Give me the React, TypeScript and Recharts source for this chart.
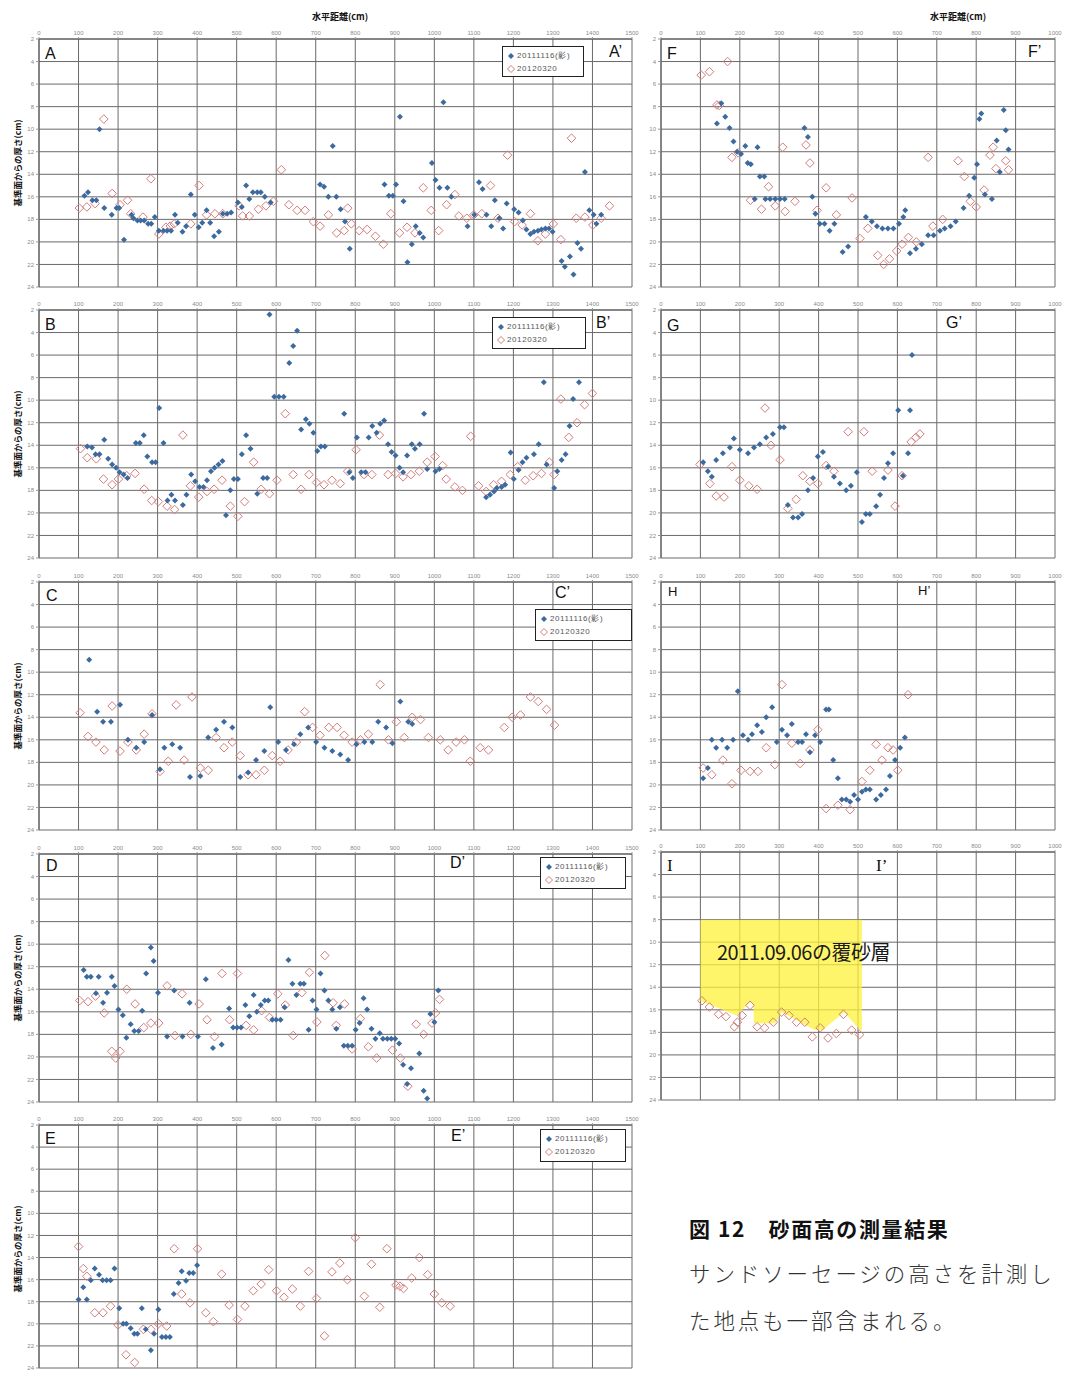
import React from 'react';
import { ScatterChart, ComposedChart, Scatter, Area, XAxis, YAxis, CartesianGrid } from 'recharts';

// ---------- tick labels ----------
const yTicks = [2, 4, 6, 8, 10, 12, 14, 16, 18, 20, 22, 24];
const xTicksLeft = [0, 100, 200, 300, 400, 500, 600, 700, 800, 900, 1000, 1100, 1200, 1300, 1400, 1500];
const xTicksRight = [0, 100, 200, 300, 400, 500, 600, 700, 800, 900, 1000];

const seriesNames = ['20111116(影)', '20120320'];

// ---------- A ----------
const aBlue: number[][] = [[153,10.0],[115,15.9],[124,15.6],[135,16.3],[145,16.3],[165,17.0],[184,17.6],[196,17.0],[203,17.0],[215,19.8],[234,17.6],[239,17.9],[249,18.1],[257,18.1],[266,18.1],[276,18.4],[284,18.4],[293,17.8],[303,19.0],[315,19.0],[324,19.0],[334,19.0],[344,17.6],[351,18.3],[363,19.1],[372,18.6],[384,15.8],[394,17.6],[404,18.7],[413,18.3],[424,17.2],[433,18.3],[443,19.5],[455,19.1],[465,17.5],[476,17.5],[486,17.4],[503,16.5],[513,16.9],[524,15.0],[532,16.2],[541,15.6],[552,15.6],[561,15.6],[571,16.0],[586,16.5],[711,14.9],[721,15.1],[732,16.0],[752,16.0],[743,11.5],[763,17.1],[774,18.2],[786,20.6],[874,14.9],[885,15.9],[895,15.9],[903,14.9],[913,8.9],[922,16.4],[932,21.8],[943,20.2],[953,18.6],[963,19.2],[972,19.6],[994,13.0],[1003,14.5],[1013,15.2],[1023,7.6],[1033,15.2],[1043,16.0],[1084,18.6],[1101,17.6],[1113,14.7],[1122,15.3],[1132,17.6],[1144,18.6],[1153,16.3],[1164,17.9],[1174,18.8],[1183,16.6],[1202,17.1],[1213,17.4],[1224,18.1],[1233,18.9],[1243,19.3],[1252,19.1],[1262,19.0],[1271,18.9],[1281,18.8],[1290,18.8],[1299,19.1],[1322,21.7],[1330,22.2],[1343,21.3],[1352,22.9],[1362,20.1],[1371,20.6],[1381,13.8],[1392,17.2],[1403,17.6],[1410,18.4],[1422,17.6]];
const aRed: number[][] = [[102,17.0],[121,16.9],[142,16.6],[164,9.1],[185,15.7],[205,16.7],[224,16.3],[232,17.5],[263,17.8],[283,14.4],[303,19.3],[321,18.7],[332,18.6],[342,18.4],[384,18.4],[405,15.0],[424,17.6],[445,17.5],[465,17.5],[506,16.8],[515,17.7],[532,17.7],[555,17.1],[574,16.8],[593,16.4],[613,13.6],[632,16.7],[653,17.2],[673,17.2],[694,18.2],[711,18.6],[732,17.6],[753,19.2],[772,19.0],[781,17.0],[790,18.4],[810,19.0],[830,18.9],[851,19.5],[871,20.2],[890,17.5],[912,19.2],[931,18.7],[951,19.2],[972,15.2],[992,17.2],[1011,19.0],[1031,16.7],[1052,15.8],[1062,17.7],[1082,17.9],[1100,17.6],[1120,17.5],[1142,15.0],[1161,17.9],[1185,12.3],[1203,18.2],[1222,18.5],[1243,17.5],[1262,19.9],[1281,19.3],[1301,18.4],[1320,19.8],[1347,10.8],[1359,17.9],[1381,17.8],[1401,18.5],[1422,17.9],[1443,16.8]];

// ---------- B ----------
const bBlue: number[][] = [[122,14.1],[134,14.2],[143,14.8],[153,14.8],[165,13.5],[175,15.2],[185,15.7],[195,16.0],[204,16.4],[214,16.6],[224,16.9],[245,13.8],[255,13.8],[265,13.1],[274,15.0],[286,15.5],[295,15.5],[304,10.7],[315,13.8],[325,18.9],[335,18.4],[344,18.9],[364,19.3],[373,18.4],[385,16.6],[395,17.2],[406,17.7],[416,17.7],[425,17.1],[435,16.3],[444,16.0],[454,15.7],[464,15.4],[473,20.2],[484,18.0],[493,17.0],[503,17.0],[513,14.8],[524,13.1],[535,14.3],[552,18.3],[567,16.9],[577,16.9],[583,2.4],[595,9.7],[607,9.7],[619,9.7],[633,6.7],[643,5.2],[653,3.85],[663,12.6],[675,11.7],[684,12.1],[694,12.9],[704,14.5],[713,14.1],[723,14.1],[772,11.2],[785,16.4],[794,16.9],[804,13.3],[815,16.4],[826,16.4],[834,13.3],[843,12.3],[854,12.9],[863,12.1],[873,11.8],[883,13.9],[892,14.6],[902,14.9],[912,16.0],[921,16.4],[931,14.9],[943,13.9],[951,14.3],[963,13.9],[974,11.2],[982,16.1],[1003,16.3],[1013,16.1],[1131,18.6],[1141,18.4],[1151,18.1],[1158,17.8],[1170,17.7],[1179,17.5],[1193,14.65],[1201,17.0],[1213,16.2],[1223,15.5],[1233,15.1],[1252,14.8],[1264,13.9],[1277,8.4],[1284,15.7],[1303,17.8],[1311,16.3],[1322,15.3],[1332,14.8],[1342,12.3],[1351,9.9],[1366,8.4]];
const bRed: number[][] = [[105,14.3],[122,15.1],[145,15.2],[163,17.0],[185,17.5],[201,17.0],[222,16.7],[243,16.5],[266,17.9],[285,18.9],[302,19.0],[324,19.4],[343,19.7],[364,13.1],[383,17.6],[404,18.6],[425,18.1],[443,17.9],[463,17.1],[484,19.4],[503,20.3],[520,19.0],[543,15.5],[562,17.9],[583,18.3],[602,17.1],[623,11.2],[643,16.6],[663,17.9],[683,16.6],[702,17.3],[721,17.5],[741,17.1],[762,17.4],[781,16.3],[802,14.4],[822,16.6],[842,16.6],[861,13.1],[883,16.6],[902,16.5],[921,16.8],[941,16.6],[962,16.3],[982,15.5],[1002,15.0],[1021,15.8],[1030,17.0],[1052,17.7],[1071,18.0],[1092,13.2],[1112,17.6],[1131,18.1],[1150,17.5],[1170,17.2],[1192,16.6],[1211,15.9],[1230,17.1],[1250,16.7],[1271,16.5],[1291,15.5],[1303,16.6],[1320,9.9],[1340,13.3],[1361,12.0],[1380,10.4],[1400,9.4]];

// ---------- C ----------
const cBlue: number[][] = [[127,8.9],[147,13.5],[162,14.4],[182,14.4],[205,12.9],[225,16.0],[246,16.7],[266,16.2],[286,13.8],[306,18.6],[317,16.7],[337,16.4],[357,16.7],[382,19.3],[408,19.2],[428,15.8],[448,15.1],[468,14.4],[489,14.9],[509,19.3],[529,18.9],[549,17.8],[570,17.0],[585,13.1],[605,16.2],[625,16.9],[645,16.4],[661,15.5],[681,14.9],[701,16.2],[722,16.7],[742,17.0],[762,17.3],[782,17.8],[803,16.4],[823,16.2],[843,16.2],[858,14.4],[878,14.9],[894,16.3],[914,12.6],[934,14.4],[944,14.6]];
const cRed: number[][] = [[104,13.6],[124,15.7],[144,16.2],[165,16.9],[185,13.0],[205,17.0],[225,16.2],[246,16.9],[266,15.5],[286,13.7],[306,18.8],[327,17.9],[347,12.9],[367,17.8],[387,12.2],[408,18.5],[428,18.7],[448,15.8],[468,16.7],[489,16.2],[509,17.4],[529,19.1],[549,19.1],[570,18.7],[590,17.4],[610,17.9],[630,16.9],[651,16.2],[672,13.5],[692,14.9],[711,15.6],[733,14.9],[754,14.9],[772,15.6],[792,16.2],[813,16.0],[833,15.5],[863,11.1],[884,16.0],[904,14.4],[924,15.8],[944,14.0],[965,14.2],[985,15.8],[1015,16.0],[1035,16.9],[1055,16.2],[1076,16.0],[1091,17.9],[1116,16.7],[1137,16.9],[1177,14.9],[1197,14.0],[1218,13.8],[1243,12.2],[1263,12.6],[1284,13.3],[1304,14.7]];

// ---------- D ----------
const dBlue: number[][] = [[113,12.3],[121,12.9],[131,12.9],[151,12.9],[144,14.35],[162,15.2],[172,14.3],[184,12.9],[191,13.7],[201,15.8],[212,16.3],[221,18.3],[232,17.1],[241,17.7],[252,17.7],[261,15.9],[271,12.6],[283,10.3],[290,11.5],[301,14.3],[324,18.2],[342,14.1],[363,18.2],[381,15.2],[402,18.2],[422,13.1],[440,19.2],[462,18.9],[481,15.7],[491,17.4],[501,17.4],[511,17.4],[522,15.4],[532,16.4],[543,14.5],[551,16.0],[561,15.4],[571,15.0],[580,15.0],[590,16.7],[600,16.7],[611,16.7],[621,15.6],[631,11.4],[641,13.5],[661,13.5],[670,13.5],[651,14.5],[682,17.6],[692,15.0],[702,15.8],[712,12.6],[722,14.1],[732,15.0],[742,15.8],[752,17.5],[761,15.6],[771,19.0],[781,19.0],[792,19.0],[801,17.6],[811,17.0],[821,14.8],[830,15.8],[841,17.5],[851,18.4],[862,17.9],[870,18.4],[881,18.4],[891,18.4],[901,18.4],[911,18.8],[921,20.7],[941,21.0],[931,22.4],[962,19.7],[973,23.0],[982,23.7],[990,16.2],[1000,16.9],[1010,14.1]];
const dRed: number[][] = [[103,15.0],[124,15.1],[143,14.6],[165,16.1],[184,19.5],[194,20.1],[205,19.5],[222,14.0],[243,15.3],[265,17.4],[283,17.0],[303,17.0],[324,13.7],[344,18.1],[362,14.4],[384,18.0],[405,15.3],[425,16.7],[444,18.2],[463,12.6],[482,16.7],[502,12.6],[524,17.2],[543,17.6],[563,15.9],[583,16.5],[604,14.4],[623,15.4],[643,18.1],[665,14.3],[684,12.5],[703,16.9],[723,11.0],[744,15.2],[752,17.2],[773,15.3],[792,19.3],[813,16.6],[833,19.1],[854,20.1],[894,19.4],[914,20.1],[933,22.6],[954,17.1],[973,18.0],[994,17.0],[1003,16.1],[1013,14.9]];

// ---------- E ----------
const eBlue: number[][] = [[100,17.8],[112,16.7],[121,17.8],[131,16.05],[141,15.0],[152,15.55],[161,16.05],[171,16.05],[181,16.05],[191,15.0],[203,18.6],[213,20.0],[221,20.0],[232,20.4],[241,20.9],[249,20.9],[260,18.6],[270,20.5],[283,22.4],[291,20.9],[302,18.7],[311,21.2],[321,21.2],[331,21.2],[341,17.3],[353,16.3],[361,15.25],[372,16.1],[380,15.4],[390,15.4],[400,14.7]];
const eRed: number[][] = [[100,13.0],[112,15.0],[121,15.7],[141,19.0],[162,19.0],[181,18.4],[200,20.1],[220,22.8],[242,23.5],[264,20.5],[283,20.5],[302,20.0],[323,20.2],[342,13.2],[361,17.3],[382,18.1],[401,13.2],[422,19.0],[441,19.8],[462,15.5],[481,18.3],[502,19.6],[521,18.4],[542,17.0],[562,16.4],[581,15.1],[601,17.0],[620,17.6],[641,16.85],[661,18.4],[682,15.25],[702,17.7],[722,21.1],[741,15.3],[761,14.5],[780,16.0],[800,12.2],[823,17.5],[841,14.6],[862,18.5],[880,13.2],[903,16.5],[913,16.6],[922,16.8],[943,15.85],[962,14.0],[983,15.55],[1000,17.3],[1019,18.1],[1040,18.4]];

// ---------- F ----------
const fBlue: number[][] = [[142,9.5],[153,7.7],[163,8.9],[174,9.9],[184,11.1],[193,12.0],[203,12.2],[214,11.5],[220,13.0],[228,13.1],[245,11.6],[238,16.2],[251,14.2],[262,14.2],[265,16.2],[277,16.2],[290,16.2],[302,16.2],[314,16.2],[364,9.9],[373,10.7],[384,16.0],[392,17.5],[403,18.4],[415,18.4],[428,19.0],[440,18.4],[461,20.9],[475,20.4],[520,17.8],[535,18.2],[548,18.6],[562,18.8],[576,18.8],[590,18.8],[604,18.4],[615,17.8],[620,17.2],[632,21.0],[647,20.6],[662,20.2],[678,19.4],[692,19.4],[708,19.0],[720,18.8],[735,18.6],[748,18.2],[768,17.0],[782,15.9],[795,14.3],[802,13.1],[808,9.1],[813,8.6],[822,15.8],[840,16.2],[852,11.0],[860,13.8],[870,8.3],[875,10.1],[882,11.8]];
const fRed: number[][] = [[102,5.2],[123,4.9],[169,4.0],[142,7.85],[148,7.9],[180,12.5],[196,12.1],[227,16.3],[255,17.1],[273,15.1],[290,16.8],[315,17.3],[340,16.4],[309,11.6],[368,11.4],[378,13.0],[396,17.2],[419,15.2],[445,17.6],[485,16.1],[505,19.7],[525,18.8],[550,21.2],[565,22.0],[580,21.5],[598,20.8],[612,20.2],[628,19.6],[648,20.0],[678,12.5],[690,18.6],[715,18.0],[754,12.8],[770,14.2],[785,16.4],[800,16.9],[820,15.4],[843,11.6],[835,12.3],[850,13.5],[875,12.8],[882,13.6]];

// ---------- G ----------
const gBlue: number[][] = [[107,15.5],[119,16.3],[129,16.8],[140,15.3],[157,14.7],[175,14.2],[185,13.4],[200,14.4],[221,14.7],[236,14.2],[251,13.9],[267,13.3],[284,13.0],[302,12.4],[312,12.4],[322,19.3],[335,20.4],[348,20.4],[358,20.1],[373,18.0],[386,16.9],[398,15.0],[411,14.6],[424,15.9],[439,16.8],[454,17.4],[470,18.0],[482,17.6],[497,16.4],[510,20.8],[520,20.1],[530,20.1],[546,19.4],[556,18.4],[566,16.9],[576,15.6],[589,14.7],[602,10.9],[614,16.7],[627,14.7],[632,10.9],[637,6.0]];
const gRed: number[][] = [[99,15.7],[124,17.4],[140,18.5],[160,18.6],[180,15.9],[200,17.1],[223,17.6],[244,17.9],[264,10.7],[279,14.0],[302,15.3],[322,19.6],[343,18.8],[360,16.7],[378,17.2],[398,17.4],[419,15.8],[439,16.3],[475,12.8],[515,12.8],[536,16.3],[576,16.2],[594,19.4],[612,16.7],[635,13.7],[647,13.3],[657,13.0]];

// ---------- H ----------
const hBlue: number[][] = [[107,19.4],[119,18.5],[129,16.0],[140,16.7],[155,16.0],[168,16.7],[183,16.0],[195,11.7],[208,15.6],[221,16.0],[231,15.5],[244,14.7],[256,15.3],[267,14.0],[282,13.1],[294,16.2],[307,15.1],[320,15.6],[332,14.6],[348,16.2],[358,16.2],[368,15.5],[378,17.1],[391,15.6],[404,16.2],[419,13.3],[426,13.3],[437,17.8],[449,19.4],[459,21.3],[470,21.3],[480,21.5],[490,20.9],[500,21.3],[510,20.6],[520,20.4],[530,20.4],[546,21.3],[558,20.9],[571,20.4],[581,19.2],[594,17.8],[607,16.7],[619,15.8]];
const hRed: number[][] = [[107,18.5],[129,19.1],[157,17.8],[180,19.9],[203,18.7],[226,18.8],[246,18.8],[267,16.7],[289,18.2],[307,11.1],[332,16.3],[353,18.1],[378,16.9],[398,15.1],[419,22.1],[449,21.8],[480,22.2],[510,19.7],[530,18.7],[546,16.4],[561,17.8],[576,16.7],[589,16.9],[601,18.7],[627,12.0]];

// ---------- I ----------
const iRed: number[][] = [[104,15.2],[123,15.75],[146,16.4],[165,16.6],[186,17.5],[194,17.1],[206,16.5],[226,15.6],[244,17.5],[263,17.6],[285,17.1],[306,16.2],[325,16.5],[344,17.1],[365,17.1],[384,18.4],[404,17.6],[424,18.5],[445,18.1],[463,16.4],[484,17.8],[504,18.2]];
const iLayerX = [100, 192, 226, 234, 236, 290, 306, 390, 410, 465, 505, 510];
const iLayerBottom = [15.2, 16.5, 15.3, 15.5, 17.2, 17.2, 16.2, 17.8, 17.8, 16.2, 17.8, 17.8];
const iLayerTop = 8;

const toPts = (arr: number[][]) => arr.map(([x, y]) => ({ x, y }));

const BLUE = '#3d6a9e';
const RED = '#d27d7a';
const PLOT_H = 248;

const BlueDiamond = (p: any) => {
  const { cx, cy } = p;
  if (cx == null || cy == null) return null;
  const r = 3;
  return <polygon points={`${cx},${cy - r} ${cx + r},${cy} ${cx},${cy + r} ${cx - r},${cy}`} fill={BLUE} />;
};
const RedDiamond = (p: any) => {
  const { cx, cy } = p;
  if (cx == null || cy == null) return null;
  const r = 4.3;
  return <polygon points={`${cx},${cy - r} ${cx + r},${cy} ${cx},${cy + r} ${cx - r},${cy}`} fill="none" stroke={RED} strokeWidth={1} />;
};

const ML = 32;
const MT = 14;
const MR = 14;
const tickStyle = { fontSize: 6, fill: '#8a8a8a', fontFamily: 'Liberation Sans' };

function Panel({ left, top, width, right, blue, red, h = PLOT_H }: { left: number; top: number; width: number; right: boolean; blue?: number[][]; red?: number[][]; h?: number }) {
  const xMax = right ? 1000 : 1500;
  const xTicks = right ? xTicksRight : xTicksLeft;
  return (
    <div style={{ position: 'absolute', left: left - ML, top: top - MT }}>
      <ScatterChart width={width + ML + MR} height={h + MT + 2} margin={{ top: 0, right: MR, bottom: 2, left: 0 }}>
        <CartesianGrid stroke="#6a6a6a" strokeWidth={1} />
        <XAxis type="number" dataKey="x" orientation="top" domain={[0, xMax]} ticks={xTicks} interval={0} height={MT} tick={tickStyle} tickSize={2} axisLine={{ stroke: '#555' }} tickLine={{ stroke: '#999' }} allowDataOverflow />
        <YAxis type="number" dataKey="y" reversed domain={[2, 24]} ticks={yTicks} interval={0} width={ML} tick={tickStyle} tickSize={3} axisLine={{ stroke: '#555' }} tickLine={{ stroke: '#999' }} allowDataOverflow />
        {red && <Scatter data={toPts(red)} shape={RedDiamond} isAnimationActive={false} />}
        {blue && <Scatter data={toPts(blue)} shape={BlueDiamond} isAnimationActive={false} />}
      </ScatterChart>
    </div>
  );
}

function PanelI({ left, top, width }: { left: number; top: number; width: number }) {
  const layer = iLayerX.map((x, i) => ({ x, band: [iLayerTop, iLayerBottom[i]] }));
  return (
    <div style={{ position: 'absolute', left: left - ML, top: top - MT }}>
      <ComposedChart data={layer} width={width + ML + MR} height={PLOT_H + MT + 2} margin={{ top: 0, right: MR, bottom: 2, left: 0 }}>
        <CartesianGrid stroke="#6a6a6a" strokeWidth={1} />
        <XAxis type="number" dataKey="x" orientation="top" domain={[0, 1000]} ticks={xTicksRight} interval={0} height={MT} tick={tickStyle} tickSize={2} axisLine={{ stroke: '#555' }} tickLine={{ stroke: '#999' }} allowDataOverflow />
        <YAxis type="number" dataKey="y" reversed domain={[2, 24]} ticks={yTicks} interval={0} width={ML} tick={tickStyle} tickSize={3} axisLine={{ stroke: '#555' }} tickLine={{ stroke: '#999' }} allowDataOverflow />
        <Area dataKey="band" type="linear" stroke="none" fill="#fff23a" fillOpacity={0.75} isAnimationActive={false} dot={false} activeDot={false} />
        <Scatter data={toPts(iRed)} shape={RedDiamond} isAnimationActive={false} />
      </ComposedChart>
    </div>
  );
}

function LegendBox({ left, top, w, h }: { left: number; top: number; w: number; h: number }) {
  const row = (i: number) => (
    <div style={{ display: 'flex', alignItems: 'center', height: 13, whiteSpace: 'nowrap' }}>
      <svg width={10} height={10} style={{ marginRight: 1 }}>
        {i === 0 ? (
          <polygon points="5,2 8,5 5,8 2,5" fill={BLUE} />
        ) : (
          <polygon points="5,1.5 8.5,5 5,8.5 1.5,5" fill="none" stroke={RED} strokeWidth={1} />
        )}
      </svg>
      <span>{seriesNames[i]}</span>
    </div>
  );
  return (
    <div style={{ position: 'absolute', left, top, width: w, height: h, border: '1.5px solid #222', background: '#fff', boxSizing: 'border-box', fontFamily: 'Liberation Sans', fontSize: 8, color: '#555', letterSpacing: 0.6, padding: '2px 0 0 3px' }}>
      {row(0)}
      {row(1)}
    </div>
  );
}

function Label({ x, y, text, size = 16, serif = false }: { x: number; y: number; text: string; size?: number; serif?: boolean }) {
  return (
    <div style={{ position: 'absolute', left: x, top: y, fontSize: size, lineHeight: 1, fontFamily: serif ? 'Liberation Serif' : 'Liberation Sans', color: '#111', whiteSpace: 'nowrap' }}>
      {text}
    </div>
  );
}

function YTitle({ cy }: { cy: number }) {
  return (
    <div style={{ position: 'absolute', left: 17 - 70, top: cy - 6, width: 140, height: 12, textAlign: 'center', transform: 'rotate(-90deg)', fontFamily: 'Noto Sans CJK JP', fontWeight: 700, fontSize: 8.5, lineHeight: '12px', color: '#111', whiteSpace: 'nowrap' }}>
      基準面からの厚さ(cm)
    </div>
  );
}

function XTitle({ cx }: { cx: number }) {
  return (
    <div style={{ position: 'absolute', left: cx - 50, top: 11, width: 100, textAlign: 'center', fontFamily: 'Noto Sans CJK JP', fontWeight: 700, fontSize: 9, lineHeight: '12px', color: '#111', whiteSpace: 'nowrap' }}>
      水平距離(cm)
    </div>
  );
}

const LX = 39;
const LW = 593;
const RX = 661;
const RW = 394;

export default function App() {
  return (
    <div style={{ position: 'absolute', left: 0, top: 0, width: 1068, height: 1373, background: '#fff', overflow: 'hidden' }}>
      <XTitle cx={340} />
      <XTitle cx={958} />
      {[163, 434, 706, 978, 1249].map((cy) => <YTitle key={cy} cy={cy} />)}

      <Panel left={LX} top={39} width={LW} right={false} blue={aBlue} red={aRed} />
      <Panel left={LX} top={310} width={LW} right={false} blue={bBlue} red={bRed} />
      <Panel left={LX} top={582} width={LW} right={false} blue={cBlue} red={cRed} />
      <Panel left={LX} top={854} width={LW} right={false} blue={dBlue} red={dRed} />
      <Panel left={LX} top={1125} width={LW} right={false} blue={eBlue} red={eRed} h={243} />

      <Panel left={RX} top={39} width={RW} right={true} blue={fBlue} red={fRed} />
      <Panel left={RX} top={310} width={RW} right={true} blue={gBlue} red={gRed} />
      <Panel left={RX} top={582} width={RW} right={true} blue={hBlue} red={hRed} />
      <PanelI left={RX} top={852} width={RW} />

      <LegendBox left={502} top={46} w={82} h={31} />
      <LegendBox left={492} top={317} w={94} h={32} />
      <LegendBox left={535} top={609} w={97} h={32} />
      <LegendBox left={540} top={857} w={86} h={32} />
      <LegendBox left={540} top={1129} w={86} h={33} />

      <Label x={45} y={46} text="A" />
      <Label x={609} y={44} text="A’" />
      <Label x={45} y={317} text="B" />
      <Label x={596} y={315} text="B’" />
      <Label x={46} y={588} text="C" />
      <Label x={555} y={585} text="C’" />
      <Label x={46} y={858} text="D" />
      <Label x={450} y={855} text="D’" />
      <Label x={45} y={1131} text="E" />
      <Label x={451} y={1128} text="E’" />
      <Label x={667} y={46} text="F" />
      <Label x={1028} y={44} text="F’" />
      <Label x={667} y={318} text="G" />
      <Label x={946} y={315} text="G’" />
      <Label x={668} y={585} text="H" size={13} />
      <Label x={918} y={584} text="H’" size={13} />
      <Label x={667} y={857} text="I" size={17} serif />
      <Label x={876} y={857} text="I’" size={17} serif />

      <div style={{ position: 'absolute', left: 717, top: 938, fontFamily: 'Noto Sans CJK JP', fontSize: 20, lineHeight: '28px', color: '#1a1a1a', whiteSpace: 'nowrap', letterSpacing: -0.5 }}>
        2011.09.06の覆砂層
      </div>

      <div style={{ position: 'absolute', left: 689, top: 1214, fontFamily: 'Noto Sans CJK JP', fontWeight: 700, fontSize: 21, lineHeight: '28px', color: '#111', whiteSpace: 'nowrap', letterSpacing: 1.6 }}>
        図 12　砂面高の測量結果
      </div>
      <div style={{ position: 'absolute', left: 689, top: 1258, fontFamily: 'Noto Sans CJK JP', fontWeight: 300, fontSize: 21.5, lineHeight: '30px', color: '#333', whiteSpace: 'nowrap', letterSpacing: 2.9 }}>
        サンドソーセージの高さを計測し
      </div>
      <div style={{ position: 'absolute', left: 689, top: 1305, fontFamily: 'Noto Sans CJK JP', fontWeight: 300, fontSize: 21.5, lineHeight: '30px', color: '#333', whiteSpace: 'nowrap', letterSpacing: 2.9 }}>
        た地点も一部含まれる。
      </div>
    </div>
  );
}
